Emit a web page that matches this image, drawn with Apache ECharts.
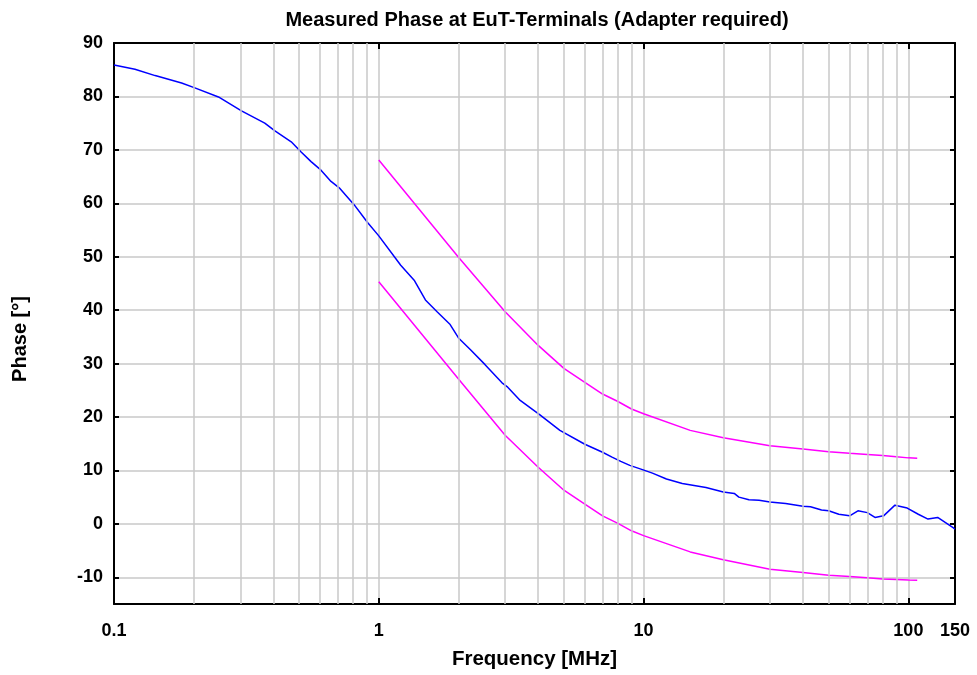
<!DOCTYPE html>
<html>
<head>
<meta charset="utf-8">
<script src="https://cdn.jsdelivr.net/npm/echarts@6/dist/echarts.min.js"></script>
<style>html,body{margin:0;padding:0;background:#fff;}#chart{width:977px;height:675px;}</style>
</head>
<body>
<div id="chart"></div>
<script>
var measuredFreq = [0.1,0.12,0.143,0.18,0.202,0.248,0.303,0.371,0.404,0.467,0.509,0.555,0.605,0.66,0.709,0.808,0.907,1.0,1.21,1.36,1.5,1.66,1.86,2.0,2.22,2.52,2.92,3.05,3.42,4.06,4.83,6.0,7.0,7.6,8.2,8.87,9.9,10.8,12.2,14.0,17.2,20,22,22.9,25,27.3,30,34.4,40,42.7,47,50,54.6,60,64.5,70,74.8,80.6,89,99,109,118.6,129,148,150];
var measuredPhase = [85.9,85.1,83.9,82.5,81.6,79.9,77.3,75.0,73.6,71.5,69.6,67.8,66.2,64.1,62.9,59.7,56.4,53.9,48.4,45.6,41.9,39.7,37.3,34.8,32.6,29.8,26.4,25.7,23.1,20.4,17.5,14.9,13.4,12.5,11.7,10.95,10.15,9.5,8.4,7.55,6.8,5.95,5.7,5.0,4.5,4.4,4.1,3.8,3.3,3.2,2.6,2.45,1.8,1.5,2.45,2.1,1.2,1.5,3.5,2.95,1.8,0.9,1.2,-0.75,-1.0];
var limitFreq = [1,2,3,4,5,6,7,8,9,10,15,20,30,40,50,60,70,80,90,100,108];
var upperLimit = [68.1,49.9,39.7,33.4,29.1,26.5,24.3,22.9,21.5,20.6,17.5,16.1,14.6,14.0,13.5,13.2,13.0,12.8,12.55,12.35,12.3];
var lowerLimit = [45.3,27.1,16.6,10.6,6.3,3.7,1.5,0.1,-1.3,-2.2,-5.25,-6.7,-8.5,-9.1,-9.6,-9.85,-10.1,-10.3,-10.4,-10.5,-10.55];
var minorGridFreq = [0.2,0.3,0.4,0.5,0.6,0.7,0.8,0.9,2,3,4,5,6,7,8,9,20,30,40,50,60,70,80,90];

function pairs(xs, ys){ return xs.map(function(x,i){ return [x, ys[i]]; }); }

var chart = echarts.init(document.getElementById('chart'), null, {renderer:'canvas'});
var FONT = 'Liberation Sans, Arial, sans-serif';
var gridColor = '#c8c8c8';
var option = {
  animation: false,
  backgroundColor: '#ffffff',
  title: {
    text: 'Measured Phase at EuT-Terminals (Adapter required)',
    left: 532, top: 5, textAlign: 'center',
    textStyle: {fontFamily: FONT, fontWeight: 'bold', fontSize: 20, color: '#000'}
  },
  graphic: [{
    type: 'text', x: 20, y: 339, rotation: Math.PI / 2, silent: true,
    style: {text: 'Phase [°]', fontFamily: FONT, fontWeight: 'bold', fontSize: 20,
      fill: '#000', textAlign: 'center', textVerticalAlign: 'middle'}
  }],
  grid: {left: 114, right: 22, top: 43, bottom: 65, containLabel: false},
  xAxis: [{
    type: 'log', logBase: 10, min: 0.1, max: 150,
    position: 'bottom',
    name: 'Frequency [MHz]', nameLocation: 'middle', nameGap: 45,
    nameTextStyle: {fontFamily: FONT, fontWeight: 'bold', fontSize: 20.5, color: '#000'},
    axisLine: {show: true, onZero: false, lineStyle: {color: '#000', width: 2}},
    axisTick: {show: true, inside: true, length: 6, lineStyle: {color: '#000', width: 2}},
    axisLabel: {show: true, margin: 18, interval: 0, hideOverlap: false,
      fontFamily: FONT, fontWeight: 'bold', fontSize: 18, color: '#000',
      formatter: function(v){ return String(Number(Number(v).toPrecision(6))); }},
    splitLine: {show: true, lineStyle: {color: gridColor, width: 1.5}}
  }, {
    type: 'log', logBase: 10, min: 0.1, max: 150,
    position: 'top',
    axisLine: {show: true, onZero: false, lineStyle: {color: '#000', width: 2}},
    axisTick: {show: true, inside: true, length: 6, lineStyle: {color: '#000', width: 2}},
    axisLabel: {show: false},
    splitLine: {show: false}
  }],
  yAxis: [{
    type: 'value', min: -15, max: 90, splitNumber: 10,
    position: 'left',
    axisLine: {show: true, onZero: false, lineStyle: {color: '#000', width: 2}},
    axisTick: {show: true, inside: true, length: 5, lineStyle: {color: '#000', width: 2}},
    axisLabel: {show: true, margin: 11,
      fontFamily: FONT, fontWeight: 'bold', fontSize: 18, color: '#000',
      formatter: function(v){ return (v % 10 === 0) ? String(v) : ''; }},
    splitLine: {show: true, lineStyle: {color: gridColor, width: 1.5}}
  }, {
    type: 'value', min: -15, max: 90, splitNumber: 10,
    position: 'right',
    axisLine: {show: true, onZero: false, lineStyle: {color: '#000', width: 2}},
    axisTick: {show: true, inside: true, length: 5, lineStyle: {color: '#000', width: 2}},
    axisLabel: {show: false},
    splitLine: {show: false}
  }],
  series: [{
    name: 'minorGrid', type: 'line', xAxisIndex: 0, yAxisIndex: 0, data: [], silent: true,
    markLine: {
      silent: true, symbol: ['none','none'], animation: false,
      label: {show: false},
      lineStyle: {color: gridColor, width: 1.5, type: 'solid'},
      emphasis: {disabled: true},
      data: minorGridFreq.map(function(f){ return {xAxis: f}; })
    }
  }, {
    name: 'Upper limit', type: 'line', xAxisIndex: 0, yAxisIndex: 0,
    data: pairs(limitFreq, upperLimit), showSymbol: false, symbol: 'none',
    lineStyle: {color: '#ff00ff', width: 1.5}, z: 3
  }, {
    name: 'Lower limit', type: 'line', xAxisIndex: 0, yAxisIndex: 0,
    data: pairs(limitFreq, lowerLimit), showSymbol: false, symbol: 'none',
    lineStyle: {color: '#ff00ff', width: 1.5}, z: 3
  }, {
    name: 'Measured', type: 'line', xAxisIndex: 0, yAxisIndex: 0,
    data: pairs(measuredFreq, measuredPhase), showSymbol: false, symbol: 'none',
    lineStyle: {color: '#0000ff', width: 1.5}, z: 4
  }]
};
chart.setOption(option);
</script>
</body>
</html>
